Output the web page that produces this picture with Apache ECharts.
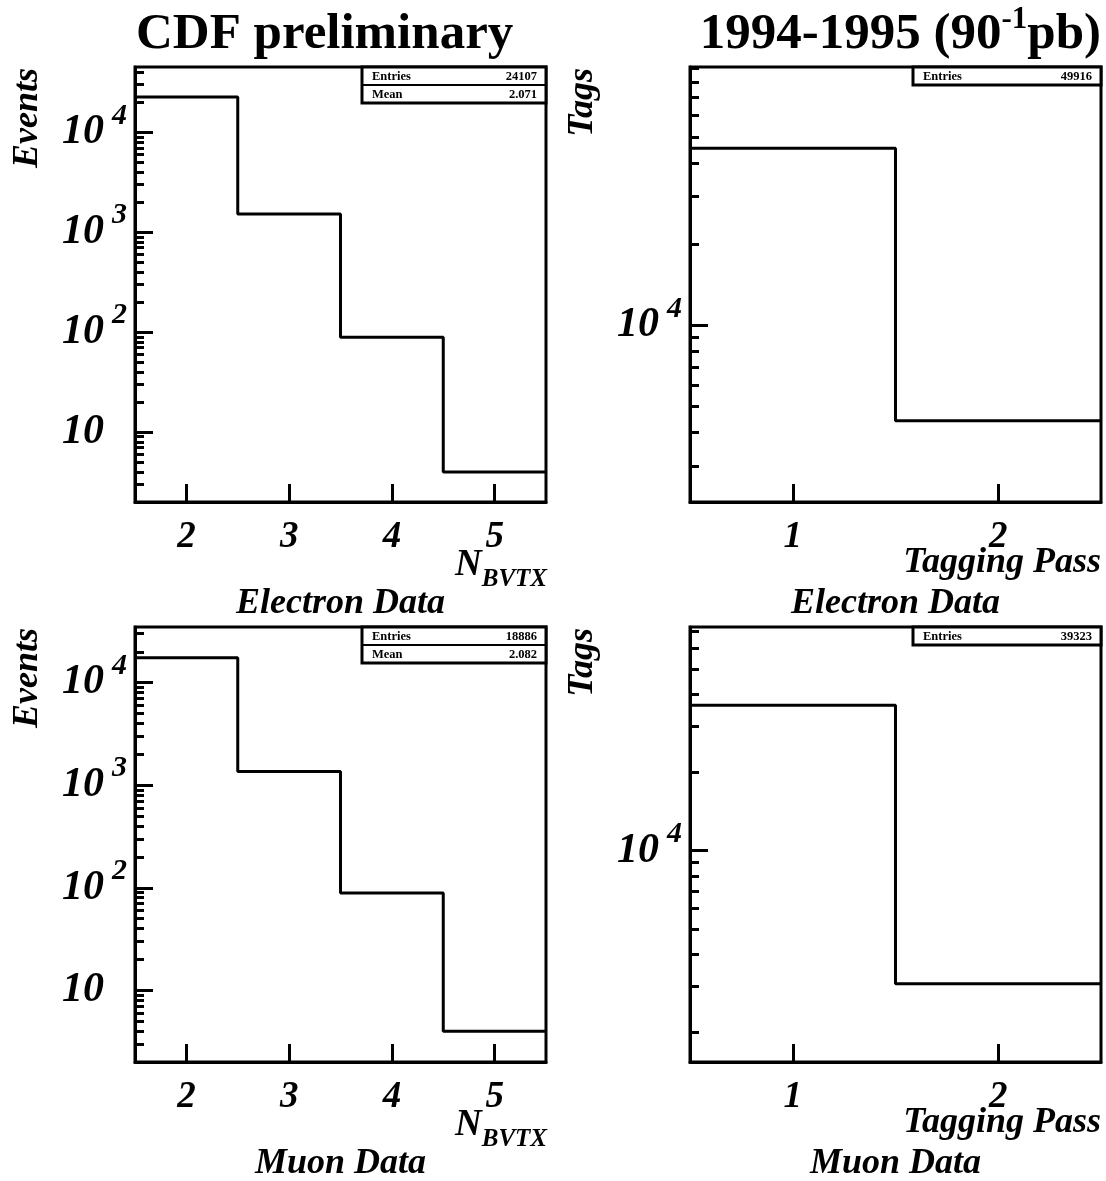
<!DOCTYPE html>
<html>
<head>
<meta charset="utf-8">
<script src="https://cdn.jsdelivr.net/npm/echarts@6/dist/echarts.min.js"></script>
<style>
  html, body { margin: 0; padding: 0; background: #fff; }
  #chart { width: 1106px; height: 1181px; }
</style>
</head>
<body>
<div id="chart"></div>
<script>
// Bin centres and contents of the four histograms
const nbvtxCenters = [2, 3, 4, 5];
const electronNbvtx = [22492, 1522, 89, 4];
const muonNbvtx = [17434, 1359, 89, 4];
const passCenters = [1, 2];
const electronPass = [45400, 4420];
const muonPass = [36250, 3080];

// Tick labels
const nbvtxTickLabels = [2, 3, 4, 5];
const passTickLabels = [1, 2];
const decadeTicks = [10, 100, 1000, 10000];
const minorSteps = [2, 3, 4, 5, 6, 7, 8, 9];

// Statistics boxes
const electronNbvtxStats = [['Entries', '24107'], ['Mean', '2.071']];
const muonNbvtxStats = [['Entries', '18886'], ['Mean', '2.082']];
const electronPassStats = [['Entries', '49916']];
const muonPassStats = [['Entries', '39323']];

const SERIF = '"Liberation Serif", "Times New Roman", serif';
const BLACK = '#000';

const panels = [
  { left: 135, top: 67, width: 411, height: 435, centers: nbvtxCenters, values: electronNbvtx,
    xTicks: nbvtxTickLabels, stats: electronNbvtxStats, yTitle: 'Events', xTitle: 'nbvtx', sample: 'Electron Data' },
  { left: 690, top: 67, width: 411, height: 435, centers: passCenters, values: electronPass,
    xTicks: passTickLabels, stats: electronPassStats, yTitle: 'Tags', xTitle: 'pass', sample: 'Electron Data' },
  { left: 135, top: 627, width: 411, height: 435, centers: nbvtxCenters, values: muonNbvtx,
    xTicks: nbvtxTickLabels, stats: muonNbvtxStats, yTitle: 'Events', xTitle: 'nbvtx', sample: 'Muon Data' },
  { left: 690, top: 627, width: 411, height: 435, centers: passCenters, values: muonPass,
    xTicks: passTickLabels, stats: muonPassStats, yTitle: 'Tags', xTitle: 'pass', sample: 'Muon Data' }
];

// Histogram outline: flat top over each bin, joined by vertical steps
function outline(centers, values) {
  const pts = [];
  centers.forEach((c, i) => {
    pts.push([c - 0.5, values[i]], [c + 0.5, values[i]]);
  });
  return pts;
}

function minorTicks(lo, hi) {
  const out = [];
  for (let e = Math.floor(Math.log10(lo)); e <= Math.ceil(Math.log10(hi)); e++) {
    minorSteps.forEach(m => {
      const v = m * Math.pow(10, e);
      if (v >= lo && v <= hi) out.push(v);
    });
  }
  return out;
}

const labelFont = { fontFamily: SERIF, fontWeight: 'bold', fontStyle: 'italic', color: BLACK };

const grids = [], xAxes = [], yAxes = [], series = [], graphics = [];

panels.forEach((p, g) => {
  const yMin = 0.5 * Math.min(...p.values);
  const yMax = 2 * Math.max(...p.values);
  const xMin = p.centers[0] - 0.5;
  const xMax = p.centers[p.centers.length - 1] + 0.5;

  grids.push({ left: p.left, top: p.top, width: p.width, height: p.height,
    show: true, borderColor: BLACK, borderWidth: 3, backgroundColor: 'transparent' });

  xAxes.push({
    gridIndex: g, type: 'value', min: xMin, max: xMax,
    axisLine: { show: true, lineStyle: { color: BLACK, width: 3 } },
    axisTick: { show: true, inside: true, length: 18, customValues: p.xTicks,
      lineStyle: { color: BLACK, width: 3 } },
    axisLabel: Object.assign({ customValues: p.xTicks, margin: 17, fontSize: 37, lineHeight: 37 }, labelFont),
    splitLine: { show: false }
  });

  // Decade ticks with labels
  yAxes.push({
    gridIndex: g, type: 'log', logBase: 10, min: yMin, max: yMax, position: 'left',
    axisLine: { show: true, lineStyle: { color: BLACK, width: 3 } },
    axisTick: { show: true, inside: true, length: 18,
      customValues: decadeTicks.filter(v => v >= yMin && v <= yMax),
      lineStyle: { color: BLACK, width: 3 } },
    axisLabel: {
      customValues: decadeTicks.filter(v => v >= yMin && v <= yMax),
      align: 'left', margin: 73,
      formatter: v => {
        const e = Math.round(Math.log10(v));
        return e === 1 ? '{b|10}' : '{b|10}{s|' + e + '}';
      },
      rich: {
        b: Object.assign({ fontSize: 42, lineHeight: 63 }, labelFont),
        s: Object.assign({ fontSize: 30, lineHeight: 30, verticalAlign: 'top', padding: [0, 0, 0, 8] }, labelFont)
      }
    },
    splitLine: { show: false }
  });

  // Sub-decade ticks
  yAxes.push({
    gridIndex: g, type: 'log', logBase: 10, min: yMin, max: yMax, position: 'left',
    axisLine: { show: false },
    axisTick: { show: true, inside: true, length: 9, customValues: minorTicks(yMin, yMax),
      lineStyle: { color: BLACK, width: 3 } },
    axisLabel: { show: false },
    splitLine: { show: false }
  });

  series.push({
    type: 'line', xAxisIndex: g, yAxisIndex: 2 * g,
    data: outline(p.centers, p.values),
    symbol: 'none', lineStyle: { color: BLACK, width: 3 }, z: 3
  });

  const right = p.left + p.width;
  const centerX = p.left + p.width / 2;

  // Y-axis title, ending at the top of the frame
  graphics.push({ type: 'text', x: p.left - 107, y: p.top + 1, rotation: Math.PI / 2,
    style: { text: p.yTitle, fontFamily: SERIF, fontWeight: 'bold', fontStyle: 'italic',
      fontSize: 36, fill: BLACK, align: 'right', verticalAlign: 'middle' } });

  // X-axis title
  if (p.xTitle === 'nbvtx') {
    graphics.push({ type: 'text', x: right + 1, y: p.top + 498,
      style: { text: '{n|N}{b|BVTX}', align: 'right', verticalAlign: 'middle',
        rich: {
          n: { fontFamily: SERIF, fontWeight: 'bold', fontStyle: 'italic', fontSize: 37, lineHeight: 54, fill: BLACK },
          b: { fontFamily: SERIF, fontWeight: 'bold', fontStyle: 'italic', fontSize: 25, lineHeight: 24, verticalAlign: 'bottom', fill: BLACK }
        } } });
  } else {
    graphics.push({ type: 'text', x: right, y: p.top + 496,
      style: { text: 'Tagging Pass', fontFamily: SERIF, fontWeight: 'bold', fontStyle: 'italic',
        fontSize: 36, fill: BLACK, align: 'right', verticalAlign: 'middle' } });
  }

  // Sample label under the panel
  graphics.push({ type: 'text', x: centerX, y: p.top + 537,
    style: { text: p.sample, fontFamily: SERIF, fontWeight: 'bold', fontStyle: 'italic',
      fontSize: 36, fill: BLACK, align: 'center', verticalAlign: 'middle' } });

  // Statistics box in the top right corner
  const rowH = 18;
  const boxW = p.stats.length > 1 ? 184 : 188;
  const boxX = right - boxW;
  const boxH = rowH * p.stats.length;
  graphics.push({ type: 'rect', z: 100, shape: { x: boxX, y: p.top, width: boxW, height: boxH },
    style: { fill: '#fff', stroke: BLACK, lineWidth: 3 } });
  p.stats.forEach((row, i) => {
    const cy = p.top + rowH * i + rowH / 2 + 1;
    graphics.push({ type: 'text', z: 101, x: boxX + 10, y: cy,
      style: { text: row[0], fontFamily: SERIF, fontWeight: 'bold', fontSize: 12.5, fill: BLACK,
        align: 'left', verticalAlign: 'middle' } });
    graphics.push({ type: 'text', z: 101, x: right - 9, y: cy,
      style: { text: row[1], fontFamily: SERIF, fontWeight: 'bold', fontSize: 12.5, fill: BLACK,
        align: 'right', verticalAlign: 'middle' } });
    if (i > 0) {
      graphics.push({ type: 'line', z: 101,
        shape: { x1: boxX, y1: p.top + rowH * i, x2: right, y2: p.top + rowH * i },
        style: { stroke: BLACK, lineWidth: 2 } });
    }
  });
});

// Page headings
graphics.push({ type: 'text', x: 136, y: 35,
  style: { text: 'CDF preliminary', fontFamily: SERIF, fontWeight: 'bold', fontSize: 51,
    fill: BLACK, align: 'left', verticalAlign: 'middle' } });
graphics.push({ type: 'text', x: 1101, y: 35,
  style: { text: '{a|1994-1995 (90}{s|-1}{a|pb)}', align: 'right', verticalAlign: 'middle',
    rich: {
      a: { fontFamily: SERIF, fontWeight: 'bold', fontSize: 51, lineHeight: 62, fill: BLACK },
      s: { fontFamily: SERIF, fontWeight: 'bold', fontSize: 31, lineHeight: 30, verticalAlign: 'top', fill: BLACK }
    } } });

const chart = echarts.init(document.getElementById('chart'), null, { renderer: 'canvas' });
chart.setOption({
  animation: false,
  backgroundColor: '#fff',
  grid: grids,
  xAxis: xAxes,
  yAxis: yAxes,
  series: series,
  graphic: graphics
});
</script>
</body>
</html>
